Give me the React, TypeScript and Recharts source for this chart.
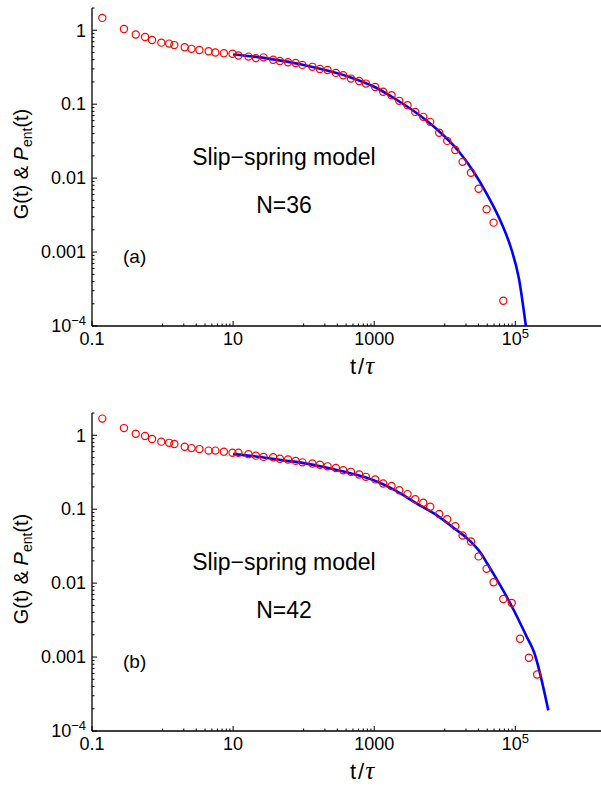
import React from "react";
import { ComposedChart, XAxis, YAxis, Scatter, Line } from "recharts";

const FONT = '"Liberation Sans", Arial, Helvetica, sans-serif';

// simulation points, panel (a) N=36
const T_A = [0.14, 0.284, 0.417, 0.565, 0.71, 0.96, 1.24, 1.47, 2.06, 2.57, 3.33, 4.5, 5.6, 7.4, 9.8, 11.9, 16.5, 21, 27, 37, 46, 60, 77, 96, 133, 170, 218, 286, 363, 468, 612, 762, 1033, 1342, 1762, 2265, 2972, 3820, 4960, 6230, 8350, 10840, 14100, 17900, 23500, 30200, 39200, 49200, 67600];
const G_A = [1.47, 1.04, 0.875, 0.81, 0.74, 0.68, 0.66, 0.63, 0.59, 0.56, 0.54, 0.52, 0.5, 0.49, 0.48, 0.455, 0.44, 0.42, 0.43, 0.4, 0.385, 0.37, 0.36, 0.34, 0.32, 0.3, 0.29, 0.265, 0.246, 0.222, 0.206, 0.19, 0.171, 0.147, 0.132, 0.111, 0.097, 0.0787, 0.0674, 0.0577, 0.041, 0.0319, 0.024, 0.0166, 0.0118, 0.0072, 0.0038, 0.0025, 0.00022];

// fit curve, panel (a)
const FIT_T_A = [10, 20, 50, 100, 200, 500, 1000, 1995, 3981, 7943, 15850, 25120, 39810, 63100, 89130, 112200, 141250];
const FIT_G_A = [0.47, 0.44, 0.385, 0.34, 0.29, 0.225, 0.172, 0.1175, 0.0759, 0.0447, 0.0229, 0.0126, 0.00603, 0.00251, 0.00105, 0.000447, 0.0001];

// simulation points, panel (b) N=42
const T_B = [0.14, 0.284, 0.417, 0.565, 0.71, 0.96, 1.24, 1.47, 2.06, 2.57, 3.33, 4.5, 5.6, 7.4, 9.8, 11.9, 16.5, 21, 27, 37, 46, 60, 77, 96, 133, 170, 218, 286, 363, 468, 612, 762, 1033, 1342, 1762, 2265, 2972, 3820, 4960, 6230, 8350, 10840, 14100, 17900, 23500, 30200, 39200, 49200, 67600, 89000, 117000, 156000, 204000];
const G_B = [1.68, 1.25, 1.05, 0.98, 0.89, 0.82, 0.79, 0.76, 0.7, 0.67, 0.65, 0.62, 0.62, 0.6, 0.58, 0.58, 0.555, 0.53, 0.51, 0.505, 0.48, 0.47, 0.45, 0.43, 0.415, 0.4, 0.38, 0.36, 0.337, 0.32, 0.295, 0.274, 0.253, 0.223, 0.206, 0.18, 0.16, 0.136, 0.122, 0.108, 0.086, 0.073, 0.059, 0.044, 0.0365, 0.023, 0.0156, 0.0103, 0.0061, 0.0054, 0.00177, 0.00098, 0.00058];

// fit curve, panel (b)
const FIT_T_B = [10, 20, 50, 100, 200, 500, 1000, 1995, 3981, 7943, 14130, 19950, 25120, 31620, 39810, 50120, 69180, 93330, 144500, 184100, 293800];
const FIT_G_B = [0.555, 0.52, 0.46, 0.42, 0.37, 0.3, 0.245, 0.18, 0.12, 0.0813, 0.0537, 0.0417, 0.0339, 0.0263, 0.0186, 0.0129, 0.00759, 0.00447, 0.0019, 0.00117, 0.00019];

const X_MAJOR = [0.1, 10, 1000, 100000];
const X_MINOR = [1, 2, 3, 4, 5, 6, 7, 8, 9, 100, 200, 300, 400, 500, 600, 700, 800, 900, 10000, 20000, 30000, 40000, 50000, 60000, 70000, 80000, 90000];
const Y_MAJOR = [0.0001, 0.001, 0.01, 0.1, 1];
const Y_MINOR = [0.0002, 0.0003, 0.0004, 0.0005, 0.0006, 0.0007, 0.0008, 0.0009, 0.002, 0.003, 0.004, 0.005, 0.006, 0.007, 0.008, 0.009, 0.02, 0.03, 0.04, 0.05, 0.06, 0.07, 0.08, 0.09, 0.2, 0.3, 0.4, 0.5, 0.6, 0.7, 0.8, 0.9, 2];

const X_DOMAIN = [0.1, 1640000];
const Y_DOMAIN = [0.0001, 2];

const X_TICKS = [...X_MAJOR, ...X_MINOR].sort((a, b) => a - b);
const Y_TICKS = [...Y_MAJOR, ...Y_MINOR].sort((a, b) => a - b);

const axisStyle = { stroke: "#000", strokeWidth: 1.3 };

function XTick(props: any) {
  const { x, y, payload } = props;
  const v = payload.value;
  const major = X_MAJOR.includes(v);
  return (
    <g>
      <line x1={x} x2={x} y1={y} y2={y - (major ? 5 : 2.5)} stroke="#000" strokeWidth={1} />
      {major && (
        <text x={x} y={y + 19} textAnchor="middle" fontSize={18} fontFamily={FONT} fill="#000">
          {v === 100000 ? (
            <>
              10<tspan fontSize={13} dy={-7}>5</tspan>
            </>
          ) : (
            String(v)
          )}
        </text>
      )}
    </g>
  );
}

function YTick(props: any) {
  const { x, y, payload } = props;
  const v = payload.value;
  const major = Y_MAJOR.includes(v);
  return (
    <g>
      <line x1={x} x2={x + (major ? 5 : 2.5)} y1={y} y2={y} stroke="#000" strokeWidth={1} />
      {major && (
        <text x={x - 6} y={y} dy="0.35em" textAnchor="end" fontSize={18} fontFamily={FONT} fill="#000">
          {v === 0.0001 ? (
            <>
              10<tspan fontSize={13} dy={-7}>−4</tspan>
            </>
          ) : (
            String(v)
          )}
        </text>
      )}
    </g>
  );
}

function XTitle(props: any) {
  const { viewBox } = props;
  return (
    <text x={362} y={viewBox.y + 48} textAnchor="middle" fontSize={22} fontFamily={FONT} fill="#000">
      t<tspan dx={2}>/</tspan>
      <tspan dx={1} fontFamily='"Liberation Serif", serif' fontStyle="italic" fontSize={25}>τ</tspan>
    </text>
  );
}

function YTitle(props: any) {
  const { viewBox } = props;
  const cx = 28;
  const cy = viewBox.y + viewBox.height / 2 - 3;
  return (
    <text
      x={cx}
      y={cy}
      transform={`rotate(-90, ${cx}, ${cy})`}
      textAnchor="middle"
      fontSize={20}
      fontFamily={FONT}
      fill="#000"
    >
      G(t) &amp; <tspan fontStyle="italic">P</tspan>
      <tspan fontSize={14} dy={4}>ent</tspan>
      <tspan dy={-4}>(t)</tspan>
    </text>
  );
}

const Ring = (props: any) => (
  <circle cx={props.cx} cy={props.cy} r={3.6} fill="none" stroke="#ff0000" strokeWidth={1.2} />
);

interface PanelProps {
  t: number[];
  g: number[];
  fitT: number[];
  fitG: number[];
  nLabel: string;
  tag: string;
  top: number;
}

function Panel({ t, g, fitT, fitG, nLabel, tag, top }: PanelProps) {
  const points = t.map((v, i) => ({ t: v, g: g[i] }));
  const fit = fitT.map((v, i) => ({ t: v, g: fitG[i] }));
  return (
    <div style={{ position: "absolute", left: 0, top, width: 601, height: 400 }}>
      <ComposedChart width={601} height={400} margin={{ top: 8, right: 0, bottom: 0, left: 0 }}>
        <XAxis
          xAxisId="top"
          orientation="top"
          type="number"
          scale="log"
          domain={X_DOMAIN}
          allowDataOverflow
          height={0}
          tick={false}
          tickLine={false}
          axisLine={axisStyle}
        />
        <XAxis
          dataKey="t"
          type="number"
          scale="log"
          domain={X_DOMAIN}
          allowDataOverflow
          ticks={X_TICKS}
          interval={0}
          tick={<XTick />}
          tickLine={false}
          tickSize={0}
          tickMargin={0}
          height={74}
          axisLine={axisStyle}
          label={<XTitle />}
        />
        <YAxis
          dataKey="g"
          type="number"
          scale="log"
          domain={Y_DOMAIN}
          allowDataOverflow
          ticks={Y_TICKS}
          interval={0}
          tick={<YTick />}
          tickLine={false}
          tickSize={0}
          tickMargin={0}
          width={92}
          axisLine={axisStyle}
          label={<YTitle />}
        />
        <Scatter data={points} dataKey="g" shape={Ring} isAnimationActive={false} />
        <Line
          data={fit}
          dataKey="g"
          type="monotone"
          stroke="#0000ff"
          strokeWidth={2.6}
          dot={false}
          activeDot={false}
          isAnimationActive={false}
        />
      </ComposedChart>
      <svg
        width={601}
        height={400}
        style={{ position: "absolute", left: 0, top: 0, pointerEvents: "none" }}
      >
        <text x={284} y={165} textAnchor="middle" fontSize={23} fontFamily={FONT} fill="#000">
          Slip−spring model
        </text>
        <text x={284} y={213} textAnchor="middle" fontSize={23} fontFamily={FONT} fill="#000">
          {nLabel}
        </text>
        <text x={123} y={263} fontSize={19} fontFamily={FONT} fill="#000">
          {tag}
        </text>
      </svg>
    </div>
  );
}

export default function App() {
  return (
    <div
      style={{
        position: "absolute",
        left: 0,
        top: 0,
        width: 601,
        height: 790,
        overflow: "hidden",
        background: "#fff",
      }}
    >
      <Panel t={T_A} g={G_A} fitT={FIT_T_A} fitG={FIT_G_A} nLabel="N=36" tag="(a)" top={0} />
      <Panel t={T_B} g={G_B} fitT={FIT_T_B} fitG={FIT_G_B} nLabel="N=42" tag="(b)" top={405} />
    </div>
  );
}
